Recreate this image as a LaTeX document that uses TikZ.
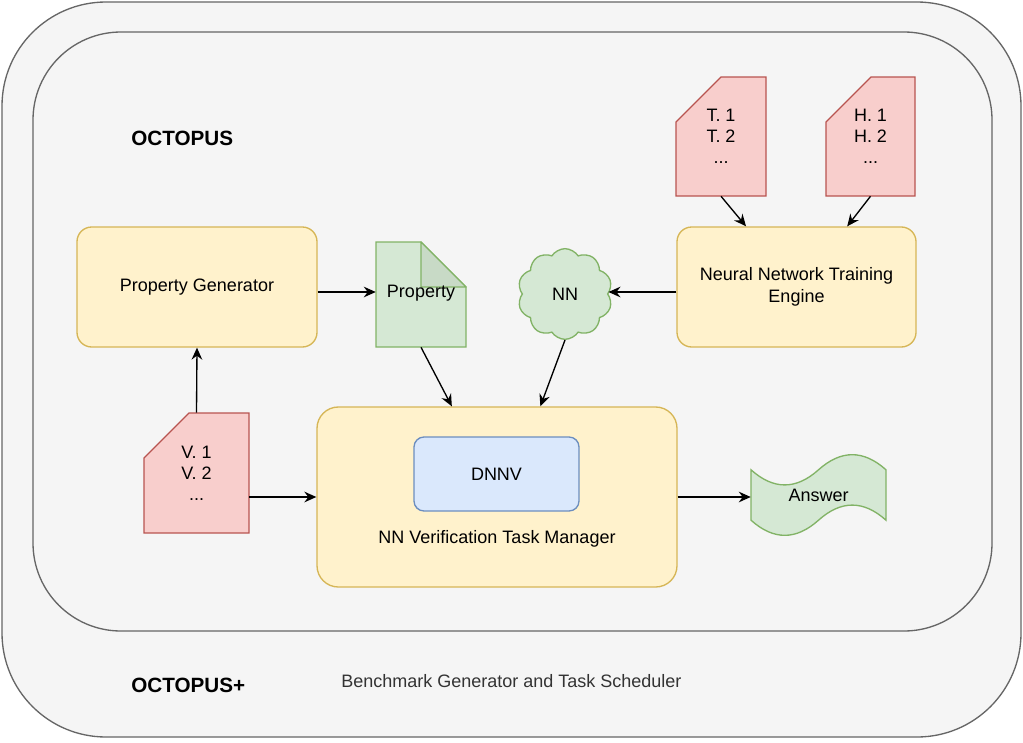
\documentclass[tikz,border=0pt]{standalone}
\usepackage{fontspec}
\setmainfont{Liberation Sans}
\usetikzlibrary{arrows.meta,shapes.symbols,calc}
\definecolor{boxF}{HTML}{F5F5F5}
\definecolor{boxD}{HTML}{666666}
\definecolor{yelF}{HTML}{FFF2CC}
\definecolor{yelD}{HTML}{D6B656}
\definecolor{redF}{HTML}{F8CECC}
\definecolor{redD}{HTML}{B85450}
\definecolor{grnF}{HTML}{D5E8D4}
\definecolor{grnD}{HTML}{82B366}
\definecolor{foldF}{HTML}{C8DAC6}
\definecolor{bluF}{HTML}{DAE8FC}
\definecolor{bluD}{HTML}{6C8EBF}
\definecolor{txtG}{HTML}{333333}
\begin{document}
\begin{tikzpicture}[x=0.75pt,y=-0.75pt,
  every node/.style={font=\fontsize{13.5}{16}\selectfont, text=black},
  frame/.style={draw=boxD, fill=boxF, line width=1pt},
  yelbox/.style={draw=yelD, fill=yelF, line width=1pt, rounded corners=11pt, align=center},
  card/.style={draw=redD, fill=redF, line width=1pt},
  grnshape/.style={draw=grnD, fill=grnF, line width=1pt},
  ghost/.style={draw=none, fill=none, inner sep=0pt, align=center},
  conn/.style={line width=1pt, -{Stealth[length=9pt,width=8pt,inset=3pt]}},
  title/.style={font=\fontsize{15.5}{18}\selectfont\bfseries, inner sep=0pt}
]
\useasboundingbox (0,0) rectangle (1023,742);
% frames
\draw[frame, rounded corners=78pt] (2,2) rectangle (1021,737);
\draw[frame, rounded corners=66pt] (33,32) rectangle (992,631);
% red cards
\draw[card] (721,77) -- (766,77) -- (766,196) -- (676,196) -- (676,122) -- cycle;
\draw[card] (871,77) -- (915,77) -- (915,196) -- (826,196) -- (826,122) -- cycle;
\draw[card] (189,413) -- (249,413) -- (249,533) -- (144,533) -- (144,458) -- cycle;
% property document
\draw[grnshape] (376,242) -- (421,242) -- (466,287) -- (466,347) -- (376,347) -- cycle;
\draw[grnshape, fill=foldF, line join=round] (421,242) -- (421,287) -- (466,287) -- cycle;
% answer tape
\draw[grnshape] (751,469.8) .. controls (773.5,489.96) and (796,489.96) .. (818.5,469.8)
  .. controls (841,449.64) and (863.5,449.64) .. (886,469.8) -- (886,520.2)
  .. controls (863.5,500.04) and (841,500.04) .. (818.5,520.2)
  .. controls (796,540.36) and (773.5,540.36) .. (751,520.2) -- cycle;

% titles
\node[title, anchor=west] (octo) at (131,138) {OCTOPUS};
\node[title, anchor=west] (octop) at (131,685) {OCTOPUS+};
\node[anchor=west, inner sep=0pt, text=txtG] (bench) at (341,681) {Benchmark Generator and Task Scheduler};

% main nodes
\node[yelbox, minimum width=180pt, minimum height=90pt] (pg) at (197,287) {Property Generator};
\node[yelbox, minimum width=179.25pt, minimum height=90pt, font=\fontsize{13.5}{17}\selectfont] (nnte) at (796.5,287) {Neural Network Training\\Engine};
\node[yelbox, rounded corners=16pt, minimum width=270pt, minimum height=135pt] (mgr) at (497,497) {};
\node[ghost] (mgrlbl) at (497,539) {NN Verification Task Manager};
\node[draw=bluD, fill=bluF, line width=1pt, rounded corners=7.5pt, minimum width=123.75pt, minimum height=55.5pt] (dnnv) at (496.5,474) {DNNV};
\node[grnshape, shape=cloud, cloud puffs=10, cloud puff arc=115, aspect=1.05, minimum width=71pt, minimum height=68pt, inner sep=0pt] (nn) at (565,294) {NN};
\node[ghost, minimum width=67.5pt, minimum height=78.75pt] (prop) at (421,294.5) {};
\node[ghost] (proplbl) at (421,293) {Property};
\node[ghost, minimum width=101.25pt, minimum height=63pt] (ans) at (818.5,495) {Answer};
\node[ghost, minimum width=67.5pt, minimum height=89.25pt, font=\fontsize{13.5}{15.75}\selectfont] (tc) at (721,136.5) {T. 1\\T. 2\\...};
\node[ghost, minimum width=66.75pt, minimum height=89.25pt, font=\fontsize{13.5}{15.75}\selectfont] (hc) at (870.5,136.5) {H. 1\\H. 2\\...};
\node[ghost, minimum width=78.75pt, minimum height=90pt, font=\fontsize{13.5}{15.75}\selectfont] (vc) at (196.5,473) {V. 1\\V. 2\\...};

% connector end points
\coordinate (pgout) at ([yshift=-3.75pt]pg.east);
\coordinate (nnteout) at ([yshift=-3.75pt]nnte.west);

% connectors
\draw[conn] (pgout) -- (prop.west |- pgout);
\draw[conn] (nnteout) -- (nn.east |- nnteout);
\draw[conn] (tc.south) -- ($(nnte.north west)!0.29!(nnte.north east)$);
\draw[conn] (hc.south) -- ($(nnte.north west)!0.711!(nnte.north east)$);
\draw[conn] (prop.south) -- ($(mgr.north west)!0.375!(mgr.north east)$);
\draw[conn] (nn.south) -- ($(mgr.north west)!0.62!(mgr.north east)$);
\draw[conn] (vc.north) -- (pg.south);
\draw[conn] (vc.east |- mgr.west) -- (mgr.west);
\draw[conn] (mgr.east) -- (ans.west |- mgr.east);
\end{tikzpicture}
\end{document}
